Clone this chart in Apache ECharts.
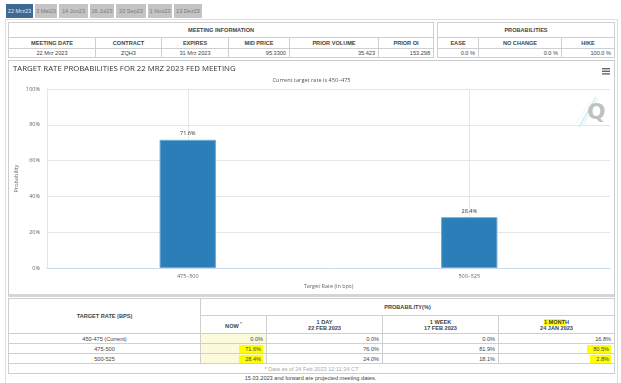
<!DOCTYPE html>
<html>
<head>
<meta charset="utf-8">
<script src="https://cdn.jsdelivr.net/npm/echarts@6/dist/echarts.min.js"></script>
<style>
html,body{margin:0;padding:0;background:#fff;}
body{width:621px;height:383px;position:relative;overflow:hidden;font-family:"Liberation Sans",Arial,sans-serif;color:#333;}
.tabs{position:absolute;left:6px;top:4px;height:14px;}
.tab{position:absolute;top:0;height:14px;line-height:14px;font-size:5.6px;text-align:center;background:#c4c4c4;color:#7a7a7a;}
.tab.active{background:#3f6995;color:#dfe8f2;}
.frame{position:absolute;left:5px;top:19px;width:611px;height:370px;border:1px solid #ddd;}
table{position:absolute;border-collapse:collapse;table-layout:fixed;font-size:5.6px;}
td,th{border:1px solid #cfcfcf;padding:0 3px;overflow:hidden;white-space:nowrap;}
th{font-weight:bold;color:#444;text-align:center;}
td{color:#444;}
.r{text-align:right;}
.c{text-align:center;}
.chartbox{position:absolute;left:8px;top:60px;width:605px;height:233px;border:1px solid #ccc;border-bottom:3px solid #d6d6d6;}
#chart{position:absolute;left:0;top:0;width:605px;height:233px;}
.now{background:#fbfbdc;}
.hl{background:#ffff00;padding:1px 2px 1px 6px;}
.hl2{background:#ffff00;}
.foot{color:#aaa;text-align:center;}
.note{position:absolute;left:0;width:621px;top:375px;text-align:center;font-size:5.6px;color:#444;}
</style>
</head>
<body>
<div class="frame"></div>
<div class="tabs" id="tabs"></div>
<table id="meet" style="left:8px;top:22px;width:425px;"></table>
<table id="prob" style="left:437px;top:22px;width:177px;"></table>
<div class="chartbox"><div id="chart"></div></div>
<table id="bottom" style="left:8px;top:298px;width:606px;"></table>
<div class="note">15.03.2023 and forward are projected meeting dates.</div>
<script>
// ---- data ----
const meetingTabs = ['22 Mrz23','3 Mai23','14 Jun23','26 Jul23','20 Sep23','1 Nov23','13 Dez23'];
const meetingHeaders = ['MEETING DATE','CONTRACT','EXPIRES','MID PRICE','PRIOR VOLUME','PRIOR OI'];
const meetingValues = ['22 Mrz 2023','ZQH3','31 Mrz 2023','95.3300','35.423','153.298'];
const probHeaders = ['EASE','NO CHANGE','HIKE'];
const probValues = ['0.0 %','0.0 %','100.0 %'];

const categories = ['475–500','500–525'];
const probabilities = [71.6, 28.4];

const rateRows = ['450-475 (Current)','475-500','500-525'];
const nowValues = ['0.0%','71.6%','28.4%'];
const dayValues = ['0.0%','76.0%','24.0%'];
const weekValues = ['0.0%','81.9%','18.1%'];
const monthValues = ['16.8%','80.5%','2.8%'];

// ---- tabs ----
const tabPos = [[0,27],[29,22],[53,29],[84,24],[110,30],[142,24],[168,28]];
document.getElementById('tabs').innerHTML = meetingTabs.map((t,i)=>
  `<div class="tab${i===0?' active':''}" style="left:${tabPos[i][0]}px;width:${tabPos[i][1]}px;">${t}</div>`).join('');

// ---- top tables ----
const mw=[87,66,67,61,89,55];
document.getElementById('meet').innerHTML =
  `<colgroup>${mw.map(w=>`<col style="width:${w}px">`).join('')}</colgroup>`+
  `<tr style="height:15px"><th colspan="6">MEETING INFORMATION</th></tr>`+
  `<tr style="height:11px">${meetingHeaders.map(h=>`<th>${h}</th>`).join('')}</tr>`+
  `<tr style="height:9px">${meetingValues.map((v,i)=>`<td class="${i<3?'c':'r'}">${v}</td>`).join('')}</tr>`;
const pw=[41,83,53];
document.getElementById('prob').innerHTML =
  `<colgroup>${pw.map(w=>`<col style="width:${w}px">`).join('')}</colgroup>`+
  `<tr style="height:15px"><th colspan="3">PROBABILITIES</th></tr>`+
  `<tr style="height:11px">${probHeaders.map(h=>`<th>${h}</th>`).join('')}</tr>`+
  `<tr style="height:9px">${probValues.map(v=>`<td class="r">${v}</td>`).join('')}</tr>`;

// ---- bottom table ----
const bw=[192,66,116,116,116];
let bh = `<colgroup>${bw.map(w=>`<col style="width:${w}px">`).join('')}</colgroup>`+
  `<tr style="height:17px"><th rowspan="2">TARGET RATE (BPS)</th><th colspan="4">PROBABILITY(%)</th></tr>`+
  `<tr style="height:18px"><th>NOW <sup style="font-size:4px">*</sup></th><th>1 DAY<br>22 FEB 2023</th><th>1 WEEK<br>17 FEB 2023</th><th><span class="hl2">1 MONT</span>H<br>24 JAN 2023</th></tr>`;
rateRows.forEach((r,i)=>{
  const nv = i>0 ? `<span class="hl">${nowValues[i]}</span>` : nowValues[i];
  const mv = i>0 ? `<span class="hl">${monthValues[i]}</span>` : monthValues[i];
  bh += `<tr style="height:10px"><td class="c">${r}</td><td class="r now">${nv}</td><td class="r">${dayValues[i]}</td><td class="r">${weekValues[i]}</td><td class="r">${mv}</td></tr>`;
});
bh += `<tr style="height:10px"><td colspan="5" class="foot">* Data as of 24 Feb 2023 12:11:34 CT</td></tr>`;
document.getElementById('bottom').innerHTML = bh;

// ---- chart ----
const chart = echarts.init(document.getElementById('chart'), null, {renderer:'canvas'});
const axisFont = {fontFamily:'Open Sans', fontSize:5.5, color:'#666'};
chart.setOption({
  animation:false,
  title:[
    {text:'TARGET RATE PROBABILITIES FOR 22 MRZ 2023 FED MEETING', left:4, top:4, padding:0,
     textStyle:{fontFamily:'Open Sans', fontSize:7.8, fontWeight:'normal', color:'#333'}},
    {text:'Current target rate is 450–475', left:'center', top:16, padding:0,
     textStyle:{fontFamily:'Open Sans', fontSize:5.6, fontWeight:'normal', color:'#555'}}
  ],
  grid:{left:38, right:4, top:28, bottom:26, outerBoundsMode:'none', containLabel:false},
  xAxis:{
    type:'category', data:categories,
    axisLine:{lineStyle:{color:'#ccd6eb'}},
    axisTick:{show:false},
    axisLabel:Object.assign({margin:5}, axisFont),
    name:'Target Rate (in bps)', nameLocation:'middle', nameGap:15, nameMoveOverlap:false,
    nameTextStyle:axisFont
  },
  yAxis:{
    type:'value', min:0, max:100, interval:20,
    axisLine:{show:true, lineStyle:{color:'#e6e6e6'}},
    axisLabel:Object.assign({formatter:'{value}%', margin:7}, axisFont),
    splitLine:{lineStyle:{color:'#e6e6e6'}},
    name:'Probability', nameLocation:'middle', nameGap:28, nameMoveOverlap:false,
    nameTextStyle:axisFont
  },
  series:[{
    type:'bar', data:probabilities, barWidth:'20%', z:2,
    itemStyle:{color:'#2a7fb8', borderColor:'#6ea9d6', borderWidth:1},
    label:{show:true, position:'top', distance:3, formatter:'{c}%', fontFamily:'Open Sans', fontSize:5.5, color:'#333'},
    markLine:{silent:true, z:1, symbol:'none', label:{show:false},
      lineStyle:{color:'#e6e6e6', type:'solid', width:1},
      data:categories.map(c=>({xAxis:c}))}
  }],
  graphic:[
    {type:'rect', shape:{x:593,y:7,width:8,height:1.4}, style:{fill:'#666'}},
    {type:'rect', shape:{x:593,y:9.6,width:8,height:1.4}, style:{fill:'#666'}},
    {type:'rect', shape:{x:593,y:12.2,width:8,height:1.4}, style:{fill:'#666'}},
    {type:'line', shape:{x1:570,y1:66,x2:587,y2:36}, style:{stroke:'#d8f1f8', lineWidth:2}},
    {type:'line', shape:{x1:574,y1:64,x2:589,y2:38}, style:{stroke:'#e3f5fa', lineWidth:1.5}},
    {type:'line', shape:{x1:567,y1:62,x2:580,y2:42}, style:{stroke:'#e6f6fb', lineWidth:1}},
    {type:'text', x:578, y:41, style:{text:'Q', fontFamily:'DejaVu Sans', fontWeight:'bold', fontSize:22, fill:'#c0c0c0'}}
  ]
});
</script>
</body>
</html>
